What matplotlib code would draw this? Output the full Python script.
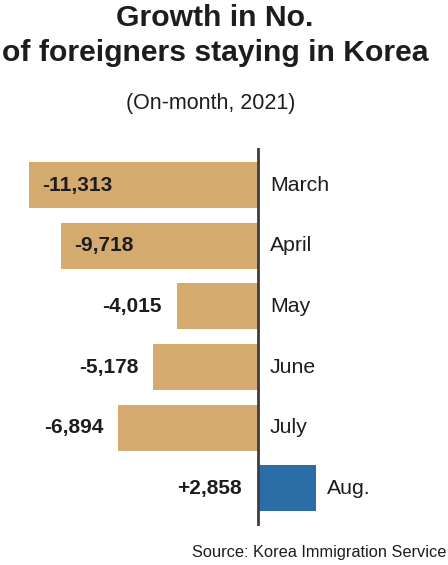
import matplotlib
matplotlib.use("Agg")
import matplotlib.pyplot as plt

months = ["March", "April", "May", "June", "July", "Aug."]
values = [-11313, -9718, -4015, -5178, -6894, 2858]
labels = ["-11,313", "-9,718", "-4,015", "-5,178", "-6,894", "+2,858"]
title_lines = ["Growth in No.", "of foreigners staying in Korea"]
subtitle = "(On-month, 2021)"
source = "Source: Korea Immigration Service"

NEG = "#D4AA6F"
POS = "#2B6EA6"
INK = "#1f1c1d"
FONT = ["Liberation Sans", "DejaVu Sans"]

W, H = 448, 565
fig = plt.figure(figsize=(W / 100, H / 100), dpi=100)
fig.patch.set_facecolor("white")

# axes spanning full width; from y=148px to y=526px (top-origin)
ax = fig.add_axes([0, (H - 526) / H, 1, (526 - 148) / H])
scale = 0.02024  # px per unit
ax.set_xlim(-258 / scale, (W - 258) / scale)
ax.set_ylim(5.62, -0.61)
ax.axis("off")

ys = list(range(len(values)))
colors = [POS if v > 0 else NEG for v in values]
ax.barh(ys, values, height=0.76, color=colors, zorder=2)
ax.axvline(0, color="#3d3d3d", lw=2, zorder=3)

for y, v, lab, m in zip(ys, values, labels, months):
    if v < 0:
        if abs(v) > 9000:
            ax.annotate(lab, (v, y), xytext=(13, 0), textcoords="offset pixels",
                        ha="left", va="center", fontsize=15, fontweight="bold",
                        color=INK, family=FONT)
        else:
            ax.annotate(lab, (v, y), xytext=(-15, 0), textcoords="offset pixels",
                        ha="right", va="center", fontsize=15, fontweight="bold",
                        color=INK, family=FONT)
        ax.annotate(m, (0, y), xytext=(12, 0), textcoords="offset pixels",
                    ha="left", va="center", fontsize=15.3, color=INK, family=FONT)
    else:
        ax.annotate(lab, (0, y), xytext=(-16, 0), textcoords="offset pixels",
                    ha="right", va="center", fontsize=15, fontweight="bold",
                    color=INK, family=FONT)
        ax.annotate(m, (v, y), xytext=(11, 0), textcoords="offset pixels",
                    ha="left", va="center", fontsize=15.3, color=INK, family=FONT)

fig.text(215 / W, 1 - 18 / H, title_lines[0], ha="center", va="center",
         fontsize=21.7, fontweight="bold", color=INK, family=FONT)
fig.text(215 / W, 1 - 53 / H, title_lines[1], ha="center", va="center",
         fontsize=21.7, fontweight="bold", color=INK, family=FONT)
fig.text(211 / W, 1 - 104 / H, subtitle, ha="center", va="center",
         fontsize=15.5, color=INK, family=FONT)
fig.text(446 / W, 1 - 553 / H, source, ha="right", va="center",
         fontsize=11.8, color=INK, family=FONT)

fig.savefig("out.png", dpi=100, facecolor="white")
